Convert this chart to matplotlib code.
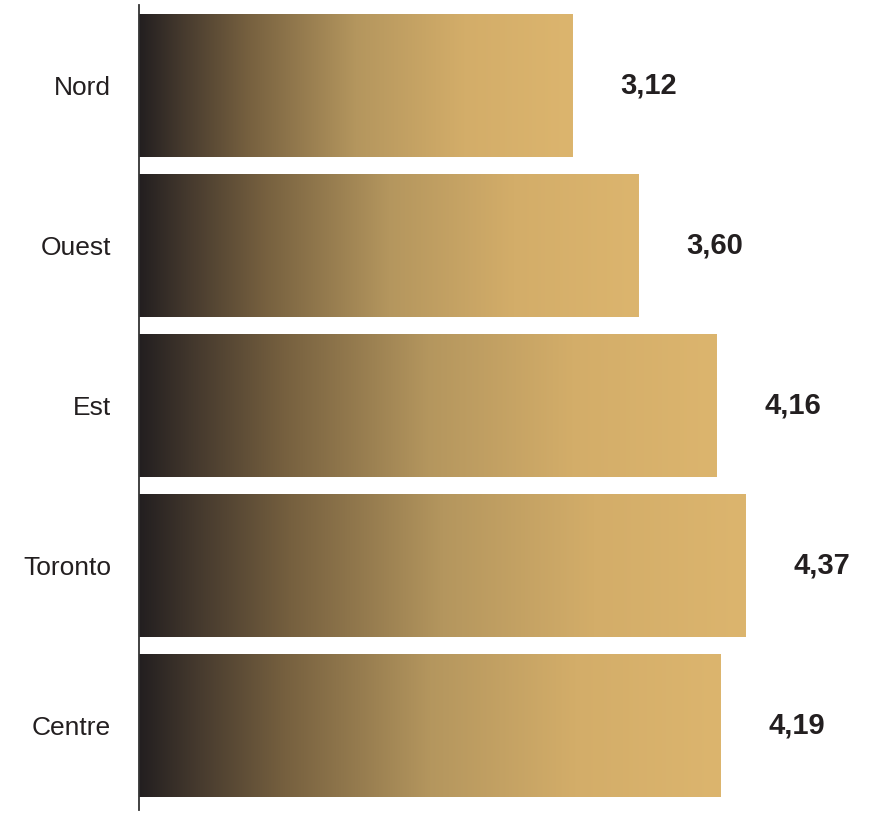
import numpy as np
import matplotlib.pyplot as plt
from matplotlib.colors import LinearSegmentedColormap

regions = ["Nord", "Ouest", "Est", "Toronto", "Centre"]
scores = [3.12, 3.60, 4.16, 4.37, 4.19]
score_labels = ["3,12", "3,60", "4,16", "4,37", "4,19"]

# dark charcoal easing into gold along each bar
gold = LinearSegmentedColormap.from_list("gold", [
    (0.00, "#231f20"),
    (0.10, "#463a2e"),
    (0.25, "#76603f"),
    (0.50, "#b4965e"),
    (0.75, "#d3ad69"),
    (1.00, "#dcb56e"),
])

plt.rcParams['font.family'] = ['Liberation Sans', 'DejaVu Sans']

fig = plt.figure(figsize=(8.71, 8.13), dpi=100)
ax = fig.add_axes([139 / 871, 3 / 813, 1 - 139 / 871, 805 / 813])

ramp = np.linspace(0, 1, 256).reshape(1, -1)
bar_h = 0.894
for i, v in enumerate(scores):
    ax.imshow(ramp, cmap=gold, aspect='auto', interpolation='bilinear',
              extent=[0, v, i + bar_h / 2, i - bar_h / 2], zorder=2)
    ax.annotate(score_labels[i], xy=(v, i), xytext=(34.5, 0),
                textcoords='offset points', ha='left', va='center',
                fontsize=21, fontweight='bold', color='#231f20')

ax.set_xlim(0, 732 / 138.8)
ax.set_ylim(4.53, -0.503)
ax.set_yticks(range(len(regions)))
ax.set_yticklabels(regions, fontsize=19, color='#231f20')
ax.tick_params(axis='y', length=0, pad=20)
ax.set_xticks([])

for side in ['top', 'right', 'bottom']:
    ax.spines[side].set_visible(False)
ax.spines['left'].set_color('#333333')
ax.spines['left'].set_linewidth(1.3)
ax.spines['left'].set_zorder(3)

fig.savefig("out.png", dpi=100)
